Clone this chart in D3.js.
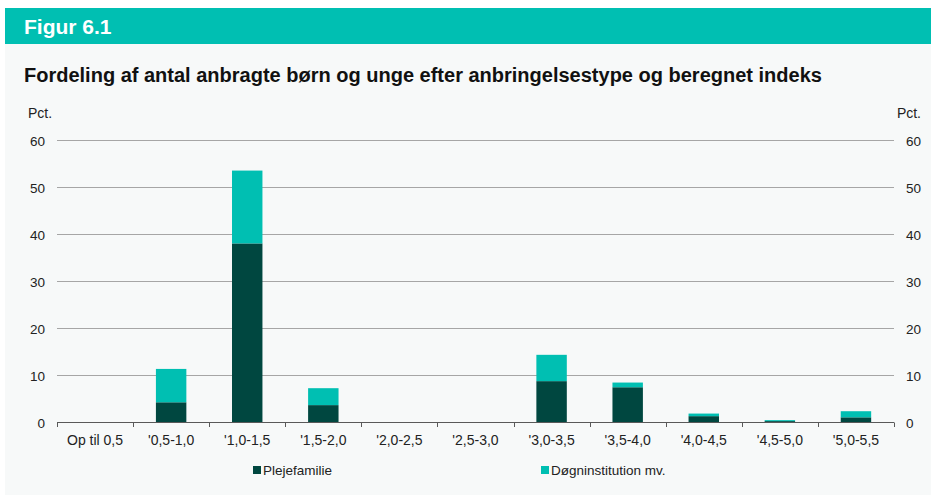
<!DOCTYPE html>
<html>
<head>
<meta charset="utf-8">
<script src="https://cdn.jsdelivr.net/npm/d3@7"></script>
<style>
  body { margin: 0; background: #ffffff; }
  svg { display: block; font-family: "Liberation Sans", Arial, sans-serif; }
</style>
</head>
<body>
<div id="chart"></div>
<script>
var categories = ["Op til 0,5", "'0,5-1,0", "'1,0-1,5", "'1,5-2,0", "'2,0-2,5", "'2,5-3,0",
                  "'3,0-3,5", "'3,5-4,0", "'4,0-4,5", "'4,5-5,0", "'5,0-5,5"];
var plejefamilie = [0, 4.3, 38.1, 3.7, 0.1, 0, 8.8, 7.5, 1.35, 0.3, 1.1];
var dognInstitution = [0, 7.1, 15.5, 3.6, 0, 0, 5.6, 1.0, 0.55, 0.2, 1.3];
var seriesNames = ["Plejefamilie", "Døgninstitution mv."];
var yTicks = [0, 10, 20, 30, 40, 50, 60];

var colors = ["#004740", "#00bfb2"];
var W = 931, H = 495;

var svg = d3.select("#chart").append("svg")
    .attr("width", W)
    .attr("height", H);

// panel + header
svg.append("rect").attr("x", 5).attr("y", 44).attr("width", W - 5).attr("height", H - 44)
    .attr("fill", "#f7f9f9");
svg.append("rect").attr("x", 5).attr("y", 8).attr("width", W - 5).attr("height", 36)
    .attr("fill", "#00bfb2");
svg.append("text").attr("x", 24).attr("y", 34)
    .attr("fill", "white").attr("font-weight", "bold").attr("font-size", 21)
    .text("Figur 6.1");
svg.append("text").attr("x", 24).attr("y", 82)
    .attr("fill", "#111").attr("font-weight", "bold").attr("font-size", 20)
    .text("Fordeling af antal anbragte børn og unge efter anbringelsestype og beregnet indeks");

// scales
var x = d3.scaleBand().domain(categories).range([57, 894]).paddingInner(0.6).paddingOuter(0.3);
var xEdges = d3.scaleBand().domain(categories).range([57, 894]);
var y = d3.scaleLinear().domain([0, 60]).range([422.5, 140.5]);

// gridlines
svg.append("g")
    .selectAll("line")
    .data(yTicks.filter(function(d) { return d > 0; }))
    .join("line")
    .attr("x1", 57).attr("x2", 894)
    .attr("y1", function(d) { return y(d); })
    .attr("y2", function(d) { return y(d); })
    .attr("stroke", "#a6a6a6").attr("stroke-width", 1);

// y labels left/right
svg.append("g").selectAll("text").data(yTicks).join("text")
    .attr("x", 45).attr("y", function(d) { return y(d) + 5; })
    .attr("text-anchor", "end").attr("font-size", 13.5).attr("fill", "#222")
    .text(function(d) { return d; });
svg.append("g").selectAll("text").data(yTicks).join("text")
    .attr("x", 906).attr("y", function(d) { return y(d) + 5; })
    .attr("text-anchor", "start").attr("font-size", 13.5).attr("fill", "#222")
    .text(function(d) { return d; });
svg.append("text").attr("x", 28).attr("y", 118).attr("font-size", 14).attr("fill", "#222").text("Pct.");
svg.append("text").attr("x", 921).attr("y", 118).attr("text-anchor", "end")
    .attr("font-size", 14).attr("fill", "#222").text("Pct.");

// stacked bars
var stackData = categories.map(function(c, i) {
    return { cat: c, p: plejefamilie[i], d: dognInstitution[i] };
});
var stacked = d3.stack().keys(["p", "d"])(stackData);

svg.append("g").selectAll("g").data(stacked).join("g")
    .attr("fill", function(d, i) { return colors[i]; })
    .selectAll("rect")
    .data(function(d) { return d; })
    .join("rect")
    .attr("x", function(d) { return x(d.data.cat); })
    .attr("width", x.bandwidth())
    .attr("y", function(d) { return y(d[1]); })
    .attr("height", function(d) { return y(d[0]) - y(d[1]); });

// x axis
var xAxis = svg.append("g");
xAxis.append("line").attr("x1", 57).attr("x2", 894).attr("y1", 422.5).attr("y2", 422.5)
    .attr("stroke", "#595959").attr("stroke-width", 1);
var edges = categories.map(function(c) { return xEdges(c); }).concat([894]);
xAxis.selectAll("line.tick").data(edges).join("line").attr("class", "tick")
    .attr("x1", function(d) { return Math.round(d) + 0.5; })
    .attr("x2", function(d) { return Math.round(d) + 0.5; })
    .attr("y1", 422.5).attr("y2", 427)
    .attr("stroke", "#595959");
xAxis.selectAll("text").data(categories).join("text")
    .attr("x", function(d) { return xEdges(d) + xEdges.bandwidth() / 2; })
    .attr("y", 445)
    .attr("text-anchor", "middle").attr("font-size", 14).attr("fill", "#222")
    .text(function(d) { return d; });

// legend
var legendX = [253, 541];
var legend = svg.append("g").selectAll("g").data(seriesNames).join("g")
    .attr("transform", function(d, i) { return "translate(" + legendX[i] + ",466)"; });
legend.append("rect").attr("width", 8).attr("height", 8)
    .attr("fill", function(d, i) { return colors[i]; });
legend.append("text").attr("x", 10).attr("y", 9)
    .attr("font-size", 13.5).attr("fill", "#222")
    .text(function(d) { return d; });
</script>
</body>
</html>
